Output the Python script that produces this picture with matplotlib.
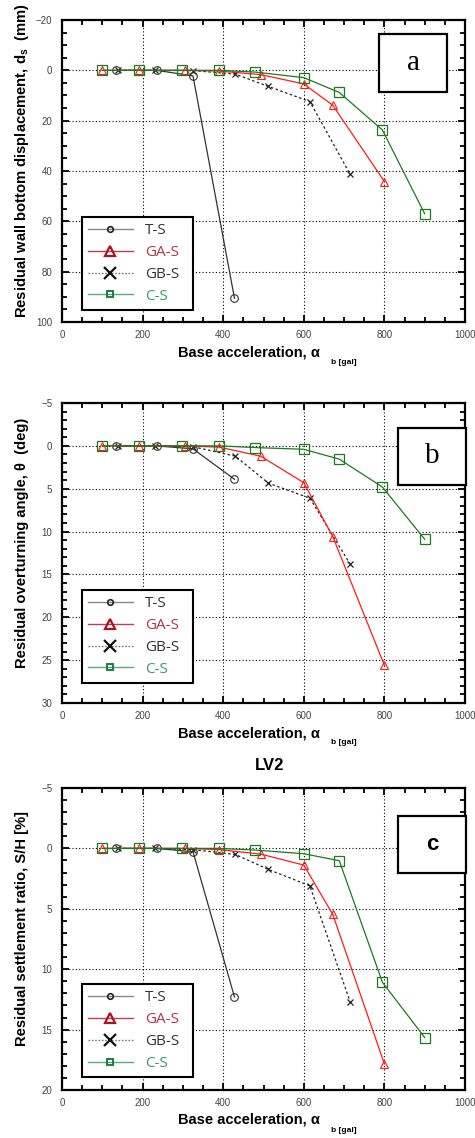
import matplotlib
matplotlib.use("Agg")
import matplotlib.pyplot as plt
from matplotlib.lines import Line2D
from matplotlib.patches import Rectangle
from matplotlib.ticker import MultipleLocator

plt.rcParams['font.family'] = ['Liberation Sans', 'DejaVu Sans']
plt.rcParams['mathtext.default'] = 'regular'

# base accelerations (gal)
x_ts = [135, 235, 325, 428]
x_gas = [100, 190, 305, 390, 493, 600, 672, 800]
x_gbs = [140, 230, 325, 430, 512, 615, 715]
x_cs = [100, 190, 298, 390, 480, 600, 688, 795, 900]

# (a) residual wall bottom displacement (mm)
a_ts = [0, 0, 2.2, 90.6]
a_gas = [0, 0, 0, 0.3, 1.7, 5.4, 13.9, 44.2]
a_gbs = [0, 0, 0.1, 1.5, 6.4, 12.4, 41.3]
a_cs = [0, 0, 0, 0, 0.7, 2.9, 8.8, 23.7, 57.0]

# (b) residual overturning angle (deg)
b_ts = [0, 0, 0.35, 3.9]
b_gas = [0, 0, 0, 0.15, 1.2, 4.3, 10.6, 25.6]
b_gbs = [0, 0, 0.1, 1.2, 4.35, 6.1, 13.8]
b_cs = [0, 0, 0, 0, 0.2, 0.4, 1.55, 4.8, 10.9]

# (c) residual settlement ratio S/H (%)
c_ts = [0, 0, 0.28, 12.3]
c_gas = [0, 0, 0, 0.1, 0.47, 1.38, 5.47, 17.85]
c_gbs = [0, 0, 0.1, 0.5, 1.74, 3.1, 12.7]
c_cs = [0, 0, 0, 0, 0.14, 0.44, 1.02, 11.08, 15.66]

names = ['T-S', 'GA-S', 'GB-S', 'C-S']

fig = plt.figure(figsize=(4.75, 11.38), dpi=100)

W, H = 475, 1138


def box(left, top, right, bottom):
    return [left / W, 1 - bottom / H, (right - left) / W, (bottom - top) / H]


def panel(rect, ys, ylim, ymaj, ymin, ylabel, tag, tagbox, tagfont, legbox, zero_line=False):
    ax = fig.add_axes(rect)
    ax.plot(x_ts, ys[0], '-', color='#333333', lw=0.9, marker='o', ms=5.5,
            mfc='none', mec='#333333', mew=0.8, zorder=3)
    ax.plot(x_gbs, ys[2], '--', color='#222222', lw=0.9, dashes=(2, 2), marker='x',
            ms=4.5, mec='#222222', mew=0.9, zorder=3)
    ax.plot(x_gas, ys[1], '-', color='#ff1a1a', lw=0.9, marker='^', ms=6,
            mfc='none', mec='#ff1a1a', mew=0.8, zorder=4)
    ax.plot(x_cs, ys[3], '-', color='#1d7a1d', lw=0.9, marker='s', ms=6.5,
            mfc='none', mec='#1d7a1d', mew=0.9, zorder=4)

    ax.set_xlim(0, 1000)
    ax.set_ylim(ylim[1], ylim[0])
    ax.xaxis.set_major_locator(MultipleLocator(200))
    ax.xaxis.set_minor_locator(MultipleLocator(50))
    ax.yaxis.set_major_locator(MultipleLocator(ymaj))
    ax.yaxis.set_minor_locator(MultipleLocator(ymin))
    ax.grid(True, which='major', color='black', ls=(0, (1, 2)), lw=0.8)
    if zero_line:
        ax.axhline(0, color='black', lw=0.8, ls='-.', zorder=2)
    ax.tick_params(which='both', direction='in', top=True, right=True,
                   width=1.3, colors='black', labelcolor='#444444', labelsize=7)
    ax.tick_params(which='major', length=5)
    ax.tick_params(which='minor', length=3.5)
    ax.tick_params(axis='y', pad=7)
    ax.tick_params(axis='x', pad=6)
    for s in ax.spines.values():
        s.set_linewidth(1.6)

    ah = rect[3] * H
    ax.text(0.465, -30 / ah, 'Base acceleration, α', transform=ax.transAxes,
            ha='center', va='center', fontsize=10.5, fontweight='bold')
    ax.text(0.667, -40 / ah, 'b [gal]', transform=ax.transAxes,
            ha='left', va='center', fontsize=6, fontweight='bold')
    ax.text(-40 / 403, 0.535, ylabel, transform=ax.transAxes, rotation=90,
            ha='center', va='center', fontsize=10.6, fontweight='bold')

    l, t, r, b = tagbox
    ax.add_patch(Rectangle((l, b), r - l, t - b, transform=ax.transAxes,
                           facecolor='white', edgecolor='black', lw=1.6,
                           zorder=6, clip_on=False))
    ax.text((l + r) / 2, (t + b) / 2, tag, transform=ax.transAxes, ha='center',
            va='center', zorder=7, **tagfont)

    handles = [
        Line2D([], [], color='#888888', lw=1.0, marker='o', ms=4, mfc='none',
               mec='#222222', mew=1.2),
        Line2D([], [], color='#c04050', lw=1.0, marker='^', ms=7, mfc='none',
               mec='#b01020', mew=1.6),
        Line2D([], [], color='#777777', lw=1.0, ls=(0, (1.2, 1.2)), marker='x',
               ms=9, mec='#111111', mew=1.6),
        Line2D([], [], color='#5aaa80', lw=1.0, marker='s', ms=4.5, mfc='none',
               mec='#1a8040', mew=1.4),
    ]
    leg = ax.legend(handles, names, loc='lower left', bbox_to_anchor=legbox,
                    mode='expand', borderaxespad=0, fancybox=False, framealpha=1,
                    edgecolor='black', handlelength=2.9,
                    handletextpad=0.8, labelspacing=0.45, borderpad=0.4,
                    prop={'family': ['Open Sans', 'DejaVu Sans'], 'size': 11})
    leg.get_frame().set_linewidth(1.5)
    leg.set_zorder(8)
    for txt, c in zip(leg.get_texts(), ['#333333', '#b03545', '#333333', '#3a9a6a']):
        txt.set_color(c)
    return ax


serif = {'fontsize': 21, 'family': ['Liberation Serif', 'DejaVu Serif']}
sans = {'fontsize': 16, 'fontweight': 'bold', 'family': ['Liberation Sans', 'DejaVu Sans']}

panel(box(62, 20, 465, 322), [a_ts, a_gas, a_gbs, a_cs], (-20, 100), 20, 5,
      'Residual wall bottom displacement, d$_{s}$  (mm)', 'a',
      (0.787, 0.954, 0.955, 0.762), serif, (0.05, 0.04, 0.275, 0.3))
panel(box(62, 403, 465, 703), [b_ts, b_gas, b_gbs, b_cs], (-5, 30), 5, 1,
      'Residual overturning angle, θ  (deg)', 'b',
      (0.834, 0.917, 1.003, 0.727), serif, (0.05, 0.067, 0.275, 0.3))
panel(box(62, 788, 465, 1090), [c_ts, c_gas, c_gbs, c_cs], (-5, 20), 5, 1,
      'Residual settlement ratio, S/H [%]', 'c',
      (0.834, 0.907, 1.003, 0.719), sans, (0.05, 0.043, 0.275, 0.3))

fig.text(270 / W, 1 - 766 / H, 'LV2', ha='center', va='center', fontsize=12,
         fontweight='bold')

fig.savefig('out.png', dpi=100)
